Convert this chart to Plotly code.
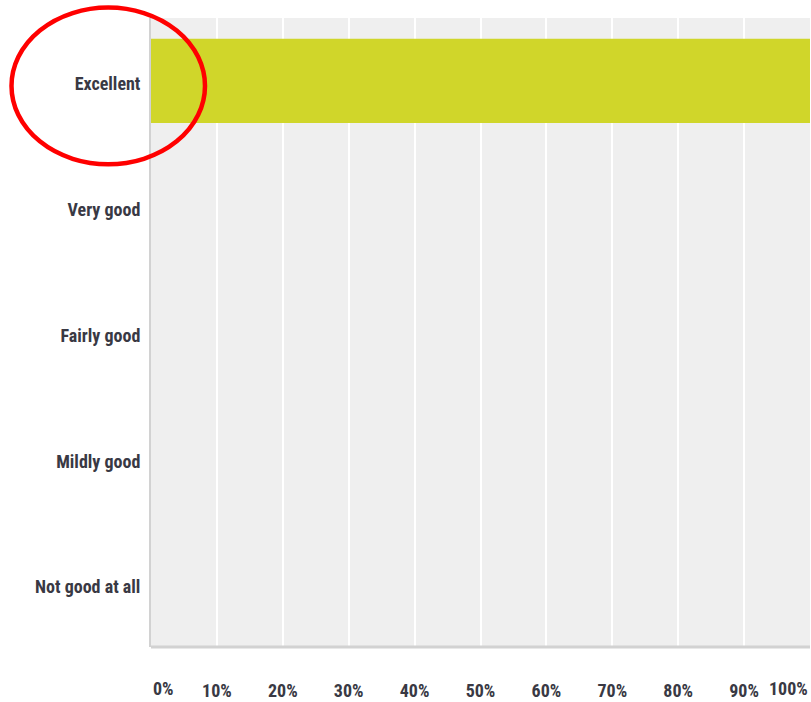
import plotly.graph_objects as go

categories = ["Excellent", "Very good", "Fairly good", "Mildly good", "Not good at all"]
percentages = [100, 0, 0, 0, 0]
tick_values = [10, 20, 30, 40, 50, 60, 70, 80, 90]
tick_labels = ["10%", "20%", "30%", "40%", "50%", "60%", "70%", "80%", "90%"]
edge_values = [0, 100]
edge_labels = ["0%", "100%"]

FONT = "Roboto Condensed, Liberation Sans Narrow, sans-serif"
TXT = "#393944"

fig = go.Figure(go.Bar(
    x=percentages, y=categories, orientation="h",
    marker=dict(color="#d0d62a", line=dict(width=0)),
    hoverinfo="skip",
))

W, H = 811, 702
L, R, T, B = 151, 1, 18, 52

fig.update_layout(
    width=W, height=H,
    margin=dict(l=L, r=R, t=T, b=B),
    paper_bgcolor="white", plot_bgcolor="#efefef",
    bargap=0.33, showlegend=False,
    font=dict(family=FONT, color=TXT, size=18),
)
fig.update_xaxes(
    range=[0, 100], tickvals=tick_values, ticktext=tick_labels,
    showgrid=True, gridcolor="white", gridwidth=2,
    zeroline=False, showline=False,
    ticks="outside", ticklen=27, tickcolor="rgba(0,0,0,0)",
    tickfont=dict(family=FONT, size=18, color=TXT, weight="bold"),
    fixedrange=True,
)
fig.update_yaxes(
    categoryorder="array", categoryarray=categories, autorange="reversed",
    showgrid=False, zeroline=False,
    showline=True, linecolor="#d2d2d2", linewidth=2,
    ticks="outside", ticklen=5, tickcolor="rgba(0,0,0,0)",
    ticklabelshift=-3,
    tickfont=dict(family=FONT, size=18, color=TXT, weight="bold"),
    fixedrange=True,
)
# bottom axis line
fig.add_shape(type="line", xref="paper", yref="paper", x0=0, x1=1, y0=0, y1=0,
              line=dict(color="#d2d2d2", width=3))

# edge tick labels aligned inward
for v, t, anc in zip(edge_values, edge_labels, ["left", "right"]):
    fig.add_annotation(x=v, y=0, xref="x", yref="paper", text=t, showarrow=False,
                       xanchor=anc, yanchor="top", yshift=-29,
                       font=dict(family=FONT, size=18, color=TXT, weight="bold"))

# red ellipse highlight (pixel positions converted to paper coords)
pw, ph = W - L - R, H - T - B
def px(xp):
    return (xp - L) / pw
def py(yp):
    return (H - B - yp) / ph
fig.add_shape(type="circle", xref="paper", yref="paper",
              x0=px(11.5), x1=px(205), y0=py(165), y1=py(7.5),
              line=dict(color="#ff0000", width=4.5), layer="above")

fig.write_html(
    "out.html",
    config={"displayModeBar": False},
    post_script="document.body.style.margin='0';document.body.style.overflow='hidden';",
)
